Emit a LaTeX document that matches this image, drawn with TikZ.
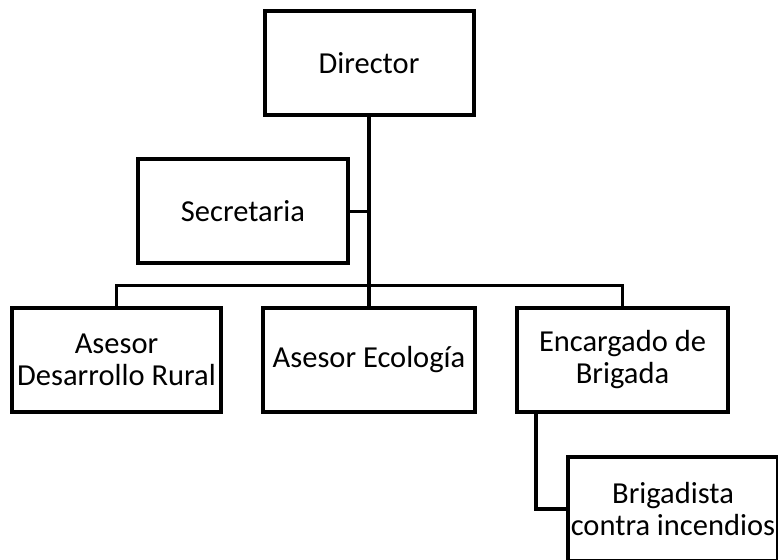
\documentclass[tikz,border=0pt]{standalone}
\usepackage{fontspec}
\setmainfont{Carlito}
\usepackage{tikz}
\usetikzlibrary{positioning,calc}

\begin{document}
\begin{tikzpicture}[x=1pt,y=1pt,
  font=\fontsize{30.5}{32}\selectfont,
  puesto/.style={draw,line width=4pt,minimum width=209pt,minimum height=104pt,
                 align=center,inner sep=0pt,fill=white},
  enlace/.style={line width=3pt}]
\useasboundingbox (0,0) rectangle (778,559);
% top level
\node[puesto] (dir) at (369,495.5) {Director};
\node[puesto,minimum width=210pt] (sec) at (243,347.5) {Secretaria};
% second level
\node[puesto] (adr) at (116.5,199) {Asesor\\Desarrollo Rural};
\node[puesto,minimum width=212pt] (aeco) at (369,199) {Asesor Ecología};
\node[puesto,minimum width=211pt] (encb) at (622.5,199) {Encargado de\\Brigada};
% brigade
\node[puesto,minimum width=210pt] (brig) at (673,50) {Brigadista\\contra incendios};
% connectors
\coordinate (bus) at (0,273);
\draw[enlace,line width=4pt] (dir.south) -- (aeco.north);
\draw[enlace] (sec.east) -- (sec.east -| dir.south);
\draw[enlace] (adr.north) -- (adr.north |- bus) -- (encb.north |- bus) -- (encb.north);
\draw[enlace,line width=4pt] ([xshift=21pt]encb.south west) |- (brig.west);
\end{tikzpicture}
\end{document}
